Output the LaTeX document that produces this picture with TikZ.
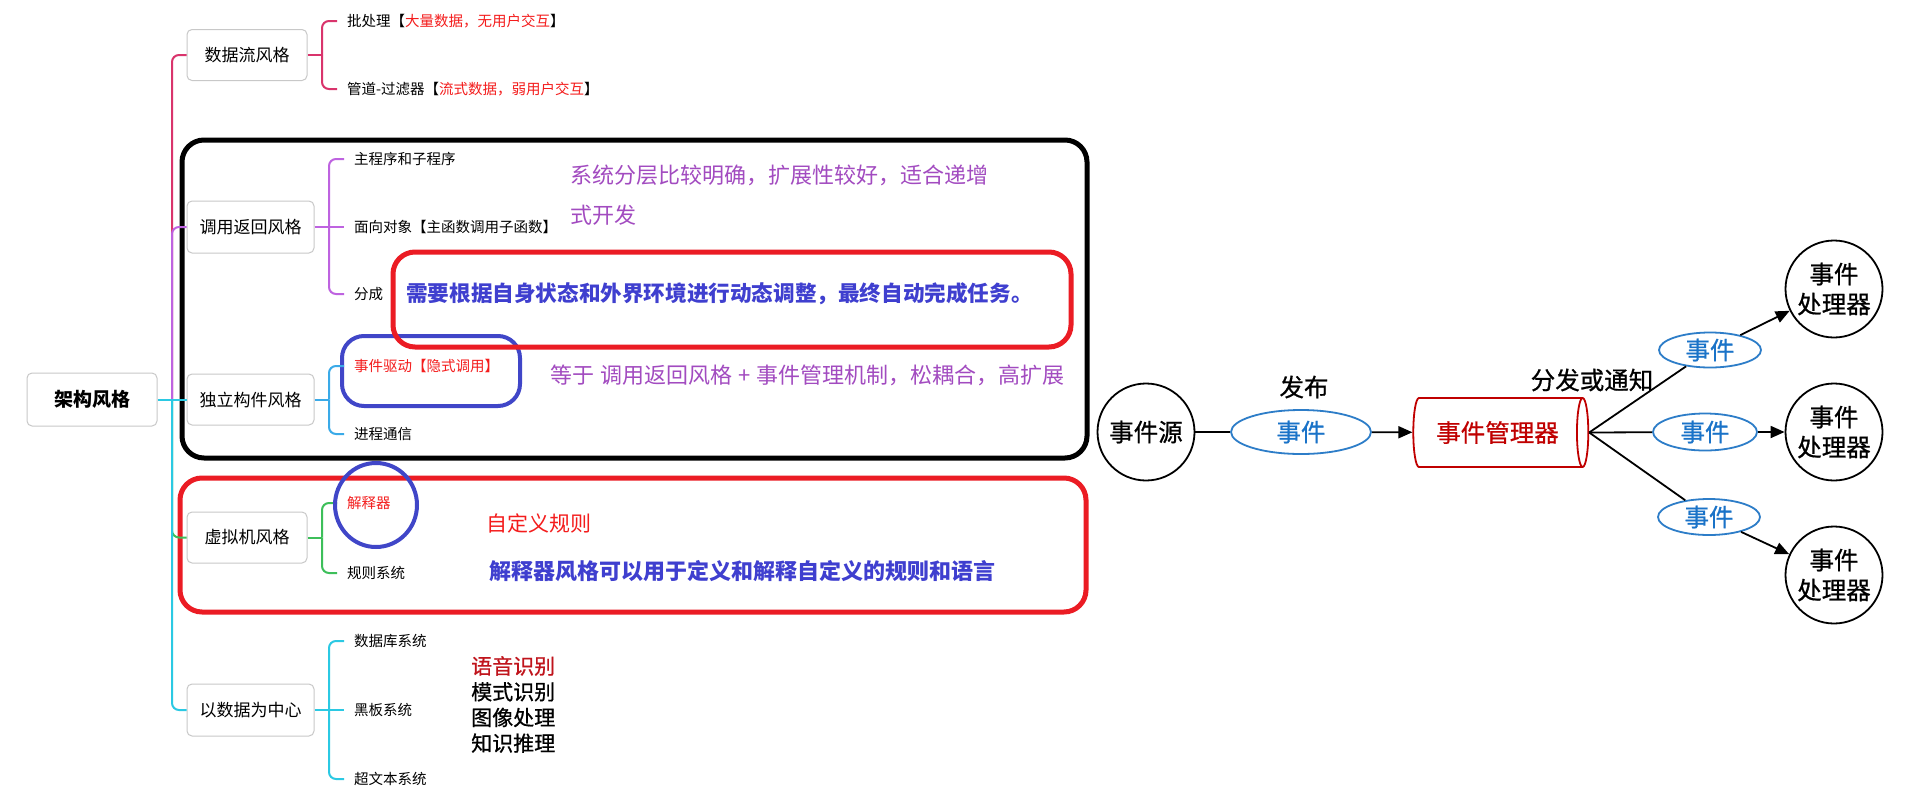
\documentclass[tikz,border=0pt]{standalone}
\usepackage{fontspec}
\setmainfont{Noto Sans CJK SC}
\newfontfamily\medcjk[FakeBold=0.7]{Noto Sans CJK SC}
\usetikzlibrary{shapes.geometric,arrows.meta}
\definecolor{boxgray}{HTML}{C8C8C8}
\definecolor{lcrim}{HTML}{D9346C}
\definecolor{lpurp}{HTML}{BE63E0}
\definecolor{lblue}{HTML}{3AAAE8}
\definecolor{lcyan}{HTML}{2BC9E3}
\definecolor{lgreen}{HTML}{3DBF5A}
\definecolor{tred}{HTML}{F41C1C}
\definecolor{dred}{HTML}{C0141C}
\definecolor{npurp}{HTML}{A24BC0}
\definecolor{nblue}{HTML}{3F3FCF}
\definecolor{hlblue}{HTML}{4046C8}
\definecolor{hlred}{HTML}{EB1C24}
\definecolor{mgrred}{HTML}{C00000}
\definecolor{evtblue}{HTML}{2D7DC8}
\definecolor{evttext}{HTML}{1A73C8}
\newcommand\fbranch{\fontsize{17}{20}\selectfont}
\newcommand\frootf{\fontsize{19}{22}\selectfont\bfseries}
\newcommand\fchild{\fontsize{14.5}{17}\selectfont}
\newcommand\fnote{\fontsize{22}{26}\selectfont}
\newcommand\fdiag{\medcjk\fontsize{24.5}{30}\selectfont}
\begin{document}
\begin{tikzpicture}[x=1pt,y=-1pt,
  bbox/.style={draw=boxgray, line width=1pt, rounded corners=5pt, fill=white, inner sep=0pt, font=\fbranch},
  leaf/.style={anchor=west, inner xsep=0pt, inner ysep=1pt, font=\fchild},
  tline/.style={line width=2pt, rounded corners=7pt},
  note/.style={anchor=west, inner sep=0pt},
  hl/.style={line width=5pt, rounded corners=22pt},
  circ/.style={circle, draw, line width=1.8pt, minimum size=97pt, inner sep=0pt, font=\fdiag, align=center, fill=white},
  evt/.style={ellipse, draw=evtblue, line width=1.8pt, text=evttext, font=\fdiag, inner sep=0pt, fill=white},
  conn/.style={line width=1.8pt},
  arr/.style={conn, -{Triangle[length=14pt,width=12pt]}}
]
\useasboundingbox[fill=white] (0,0) rectangle (1914,801);

% highlight frames
\draw[hl, black] (182,140) rectangle (1087,458);
\draw[line width=4pt, hlblue, rounded corners=22pt] (342,336) rectangle (520,406);
\draw[hl, hlred] (393,252) rectangle (1071,347);
\draw[hl, hlred] (180,478) rectangle (1086,612);

% mind map boxes
\node[bbox, minimum width=130, minimum height=53, font=\frootf] (root) at (92,399.5) {架构风格};
\node[bbox, minimum width=120, minimum height=51] (df) at (247,55) {数据流风格};
\node[bbox, minimum width=127, minimum height=52] (dy) at (250.5,227) {调用返回风格};
\node[bbox, minimum width=127, minimum height=51] (dl) at (250.5,399.5) {独立构件风格};
\node[bbox, minimum width=120, minimum height=51] (vm) at (247,537.5) {虚拟机风格};
\node[bbox, minimum width=127, minimum height=52] (dc) at (250.5,710) {以数据为中心};

% trunk
\coordinate (tr) at (172,399.5);
\draw[tline, lcrim] (tr) |- (df.west);
\draw[tline, lpurp] (tr) |- (dy.west);
\draw[tline, lgreen] (tr) |- (vm.west);
\draw[tline, lcyan] (tr) |- (dc.west);
\draw[tline, lcyan] (root.east) -- (dl.west);

% leaves
\node[leaf] (c11) at (347,21) {批处理【\textcolor{tred}{大量数据，无用户交互}】};
\node[leaf] (c12) at (347,89) {管道-过滤器【\textcolor{tred}{流式数据，弱用户交互}】};
\node[leaf] (c21) at (354,159) {主程序和子程序};
\node[leaf] (c22) at (354,227) {面向对象【主函数调用子函数】};
\node[leaf] (c23) at (354,294) {分成};
\node[leaf, text=tred] (c31) at (354,366) {事件驱动【隐式调用】};
\node[leaf] (c32) at (354,434) {进程通信};
\node[leaf, text=tred] (c41) at (347,503) {解释器};
\node[leaf] (c42) at (347,573) {规则系统};
\node[leaf] (c51) at (354,641) {数据库系统};
\node[leaf] (c52) at (354,710) {黑板系统};
\node[leaf] (c53) at (354,779) {超文本系统};

% brackets
\coordinate (j1) at (322,55);
\coordinate (j2) at (329,227);
\coordinate (j3) at (329,399.5);
\coordinate (j4) at (322,537.5);
\coordinate (j5) at (329,710);
\draw[tline, lcrim] (df.east) -- (j1);
\draw[tline, lcrim] (j1) |- ([xshift=-10pt]c11.west);
\draw[tline, lcrim] (j1) |- ([xshift=-10pt]c12.west);
\draw[tline, lpurp] (dy.east) -- (j2);
\draw[tline, lpurp] (j2) |- ([xshift=-10pt]c21.west);
\draw[tline, lpurp] (j2) -- ([xshift=-10pt]c22.west);
\draw[tline, lpurp] (j2) |- ([xshift=-10pt]c23.west);
\draw[tline, lblue] (dl.east) -- (j3);
\draw[tline, lblue] (j3) |- ([xshift=-10pt]c31.west);
\draw[tline, lblue] (j3) |- ([xshift=-10pt]c32.west);
\draw[tline, lgreen] (vm.east) -- (j4);
\draw[tline, lgreen] (j4) |- ([xshift=-10pt]c41.west);
\draw[tline, lgreen] (j4) |- ([xshift=-10pt]c42.west);
\draw[tline, lcyan] (dc.east) -- (j5);
\draw[tline, lcyan] (j5) |- ([xshift=-10pt]c51.west);
\draw[tline, lcyan] (j5) -- ([xshift=-10pt]c52.west);
\draw[tline, lcyan] (j5) |- ([xshift=-10pt]c53.west);

% circle around 解释器
\draw[line width=4pt, hlblue] (376,505) ellipse [x radius=41, y radius=42];

% notes
\node[note, text=npurp, font=\fnote] (n1) at (570,175) {系统分层比较明确，扩展性较好，适合递增};
\node[note, text=npurp, font=\fnote] (n2) at (570,215) {式开发};
\node[note, text=nblue, font=\fontsize{21.6}{26}\selectfont\bfseries] (n3) at (406,294) {需要根据自身状态和外界环境进行动态调整，最终自动完成任务。};
\node[note, text=npurp, font=\fnote] (n4) at (550,375) {等于\hspace{6pt}调用返回风格\hspace{6pt}+\hspace{6pt}事件管理机制，松耦合，高扩展};
\node[note, text=tred, font=\fontsize{21}{26}\selectfont] (n5) at (486,523) {自定义规则};
\node[note, text=nblue, font=\fontsize{22}{26}\selectfont\bfseries] (n6) at (489,571) {解释器风格可以用于定义和解释自定义的规则和语言};
\node[note, align=left, font=\medcjk\fontsize{21}{25.7}\selectfont] (n7) at (471,704.5) {\textcolor{dred}{语音识别}\\模式识别\\图像处理\\知识推理};

% event diagram
\node[circ] (src) at (1146,432) {事件源};
\node[evt, minimum width=140, minimum height=44] (e0) at (1301,432) {事件};
\node[cylinder, draw=mgrred, line width=1.8pt, text=mgrred, font=\fdiag, minimum width=69, minimum height=175, aspect=0.5, inner sep=0pt, fill=white] (mgr) at (1497.5,432.5) {事件管理器};
\node[font=\fdiag, inner sep=0pt] (l1) at (1304,387) {发布};
\node[font=\fdiag, inner sep=0pt] (l2) at (1592,380) {分发或通知};
\node[circ] (h1) at (1834,289) {事件\\处理器};
\node[circ] (h2) at (1834,432) {事件\\处理器};
\node[circ] (h3) at (1834,575) {事件\\处理器};
\node[evt, minimum width=102, minimum height=35] (e1) at (1710,350) {事件};
\node[evt, minimum width=104, minimum height=37] (e2) at (1705,432) {事件};
\node[evt, minimum width=102, minimum height=36] (e3) at (1709,517) {事件};
\draw[conn] (src) -- (e0);
\draw[arr] (e0) -- (mgr);
\draw[conn] (mgr.east) -- (e1);
\draw[conn] (mgr.east) -- (e2);
\draw[conn] (mgr.east) -- (e3);
\draw[arr] (e1) -- (h1);
\draw[arr] (e2) -- (h2);
\draw[arr] (e3) -- (h3);
\end{tikzpicture}
\end{document}
